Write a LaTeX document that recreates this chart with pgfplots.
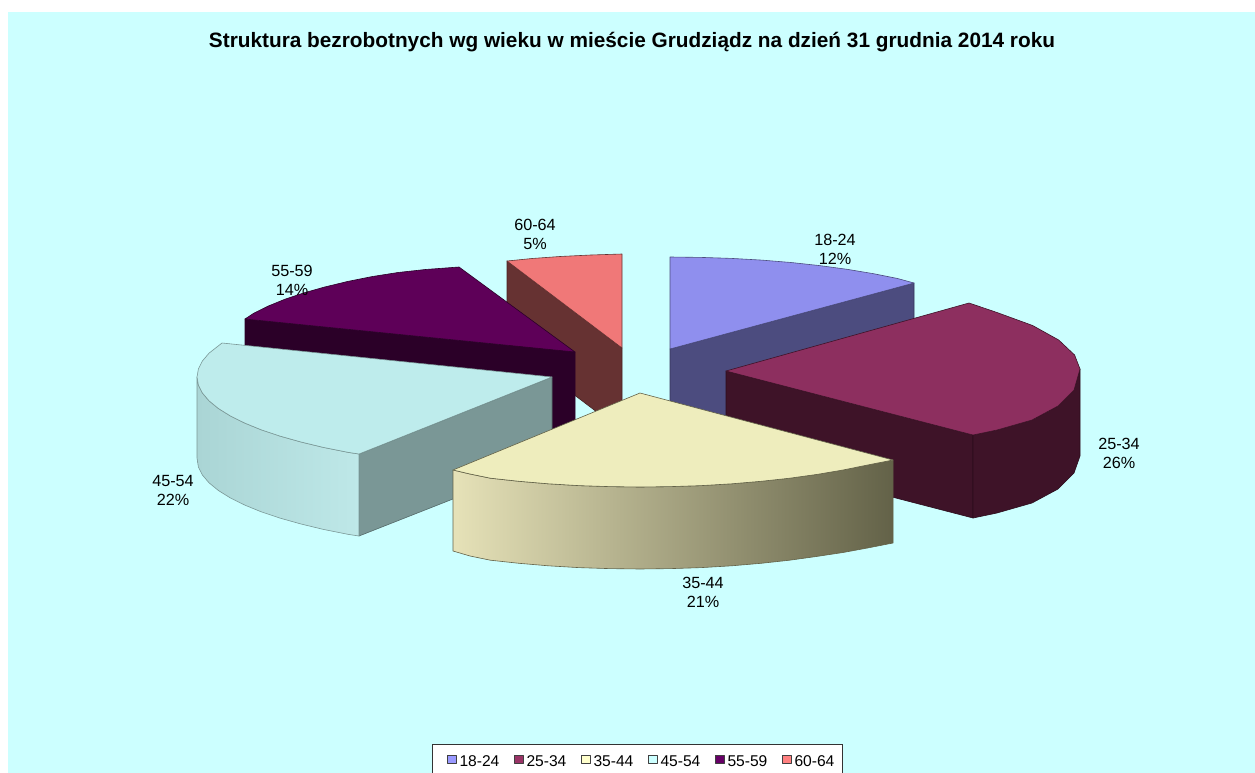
\documentclass[border=0pt]{standalone}
\usepackage{fontspec}
\setmainfont{Liberation Sans}
\usepackage{pgfplots}
\pgfplotsset{compat=1.18}
\definecolor{bg}{HTML}{CCFFFF}
\definecolor{topA}{HTML}{8F8FEE}\definecolor{wallA}{HTML}{4C4C7F}
\definecolor{topB}{HTML}{8D2F5F}\definecolor{wallB}{HTML}{3E1328}
\definecolor{topC}{HTML}{EEEDBD}\definecolor{wallCl}{HTML}{E6E2B8}\definecolor{wallCr}{HTML}{636248}
\definecolor{topD}{HTML}{BEECEC}\definecolor{wallD}{HTML}{7A9796}\definecolor{wallDl}{HTML}{AAD5D5}\definecolor{wallDr}{HTML}{BEE8E8}
\definecolor{topE}{HTML}{5E0058}\definecolor{wallE}{HTML}{2B0028}
\definecolor{topF}{HTML}{F07878}\definecolor{wallF}{HTML}{663232}
\definecolor{legA}{HTML}{9999FF}\definecolor{legB}{HTML}{993366}\definecolor{legC}{HTML}{FFFFCC}
\definecolor{legD}{HTML}{CCFFFF}\definecolor{legE}{HTML}{660066}\definecolor{legF}{HTML}{FF8080}
\begin{document}
\begin{tikzpicture}
\useasboundingbox (0,0) rectangle (1255pt,773pt);
\begin{scope}
\clip (0,0) rectangle (1255pt,773pt);
\begin{axis}[
  at={(0,0)},anchor=south west,
  scale only axis,width=1255pt,height=773pt,
  xmin=0,xmax=1255,ymin=0,ymax=773,y dir=reverse,
  hide axis,clip=false,
  every axis plot/.append style={forget plot,line width=0.6pt,line join=round},
  legend columns=6,
  legend image code/.code={\draw[#1,line width=0.6pt,draw=black!75] (0pt,-2pt) rectangle (8.5pt,6.5pt);},
  legend style={at={(axis cs:432,744)},anchor=north west,draw=black!80,line width=0.8pt,fill=white,
    font=\fontsize{15.6}{18}\selectfont,inner xsep=15pt,inner ysep=9pt,
    /tikz/every even column/.append style={column sep=12pt},
    nodes={inner xsep=3pt,inner ysep=2pt}},
]
\fill[bg] (axis cs:8,12) rectangle (axis cs:1255,773);
\addlegendimage{fill=legA}\addlegendentry{18-24}
\addlegendimage{fill=legB}\addlegendentry{25-34}
\addlegendimage{fill=legC}\addlegendentry{35-44}
\addlegendimage{fill=legD}\addlegendentry{45-54}
\addlegendimage{fill=legE}\addlegendentry{55-59}
\addlegendimage{fill=legF}\addlegendentry{60-64\kern-10pt}
% 60-64
\addplot[fill=wallF,draw=wallF!70!black] coordinates {(507,261)(622,348)(622,431)(507,344)} --cycle;
\addplot[fill=topF,draw=wallF] coordinates {(507,261)(532,258.5)(560,256.5)(591,255)(622,254)(622,348)} --cycle;
% 18-24
\addplot[fill=wallA,draw=wallA!70!black] coordinates {(670,349)(914,283)(914,366)(670,432)} --cycle;
\addplot[fill=topA,draw=wallA] coordinates {(670,257)(701,257.4)(731.5,258.4)(761.6,260.1)(791,262.5)(819.6,265.6)(847,269.3)(873,273.6)(897.5,278.5)(914,283)(670,349)} --cycle;
% 55-59
\addplot[fill=wallE,draw=wallE] coordinates {(245,319)(575,352)(575,435)(245,402)} --cycle;
\addplot[fill=topE,draw=wallE] coordinates {(459,267)(425.4,269.5)(398,272.5)(372,276.6)(347.5,281.5)(324.7,287)(303.8,292.9)(285,299.2)(268.4,306)(254,313.1)(245,319)(575,352)} --cycle;
% 25-34
\addplot[fill=wallB,draw=wallB!70!black] coordinates {(726,371)(973,435)(973,518)(726,454)} --cycle;
\addplot[fill=wallB,draw=wallB!70!black] coordinates {(973,435)(997,430)(1032,420)(1058,406)(1074,390)(1080,369)(1080,456)(1074,473)(1058,489)(1032,503)(997,513)(973,518)} --cycle;
\addplot[fill=topB,draw=wallB] coordinates {(726,371)(969,303)(997,312.5)(1032.6,325.5)(1058.7,340)(1074.6,355)(1080,369)(1074,390)(1058,406)(1032,420)(997,430)(973,435)} --cycle;
% 45-54
\addplot[fill=wallD,draw=wallD!70!black] coordinates {(359,454)(552,377)(552,460)(359,536)} --cycle;
\addplot[left color=wallDl,middle color=wallDr,right color=wallDr,draw=wallD] coordinates {(197,377)(198.4,385)(202.4,393)(209,400.8)(218.4,408.5)(230.3,415.9)(244.6,423)(261.2,429.8)(280,436.1)(301,442)(323.8,447.5)(348.4,452.4)(359,454)(359,536)(348.4,534.4)(323.8,529.5)(301,524)(280,518.1)(261.2,511.8)(244.6,505)(230.3,497.9)(218.4,490.5)(209,482.8)(202.4,475)(198.4,467)(197,458)} --cycle;
\addplot[fill=topD,draw=wallD] coordinates {(222,343)(209,353.2)(202.4,361)(198.4,369)(197,377)(198.4,385)(202.4,393)(209,400.8)(218.4,408.5)(230.3,415.9)(244.6,423)(261.2,429.8)(280,436.1)(301,442)(323.8,447.5)(348.4,452.4)(359,454)(552,377)} --cycle;
% 35-44
\addplot[left color=wallCl,right color=wallCr,draw=wallCr] coordinates {(453,470)(470,474)(490.4,478.2)(519,481.3)(548.4,483.8)(578.5,485.6)(609,486.6)(640,487)(671,486.6)(701.5,485.6)(731.6,483.8)(761,481.3)(789.6,478.2)(817,474.4)(843,470)(867.5,465)(893,460)(893,543)(867.5,548)(843,552.5)(817,556.4)(789.6,560.2)(761,563.3)(731.6,565.8)(701.5,567.6)(671,568.6)(640,569)(609,568.6)(578.5,567.6)(548.4,565.8)(519,563.3)(490.4,560.2)(470,556)(453,551)} --cycle;
\addplot[fill=topC,draw=wallCr] coordinates {(640,393)(893,460)(867.5,465)(843,470)(817,474.4)(789.6,478.2)(761,481.3)(731.6,483.8)(701.5,485.6)(671,486.6)(640,487)(609,486.6)(578.5,485.6)(548.4,483.8)(519,481.3)(490.4,478.2)(470,474)(453,470)} --cycle;
% texts
\node[font=\fontsize{20.8}{24}\selectfont\bfseries] at (axis cs:632,42.5) {Struktura bezrobotnych wg wieku w mieście Grudziądz na dzień 31 grudnia 2014 roku};
\tikzset{lab/.style={font=\fontsize{16.2}{19}\selectfont,align=center,inner sep=0pt}}
\node[lab] at (axis cs:835,249) {18-24\\12\%};
\node[lab] at (axis cs:1119,453) {25-34\\26\%};
\node[lab] at (axis cs:703,592) {35-44\\21\%};
\node[lab] at (axis cs:173,490) {45-54\\22\%};
\node[lab] at (axis cs:292,280) {55-59\\14\%};
\node[lab] at (axis cs:535,234) {60-64\\5\%};
\end{axis}
\end{scope}
\end{tikzpicture}
\end{document}
